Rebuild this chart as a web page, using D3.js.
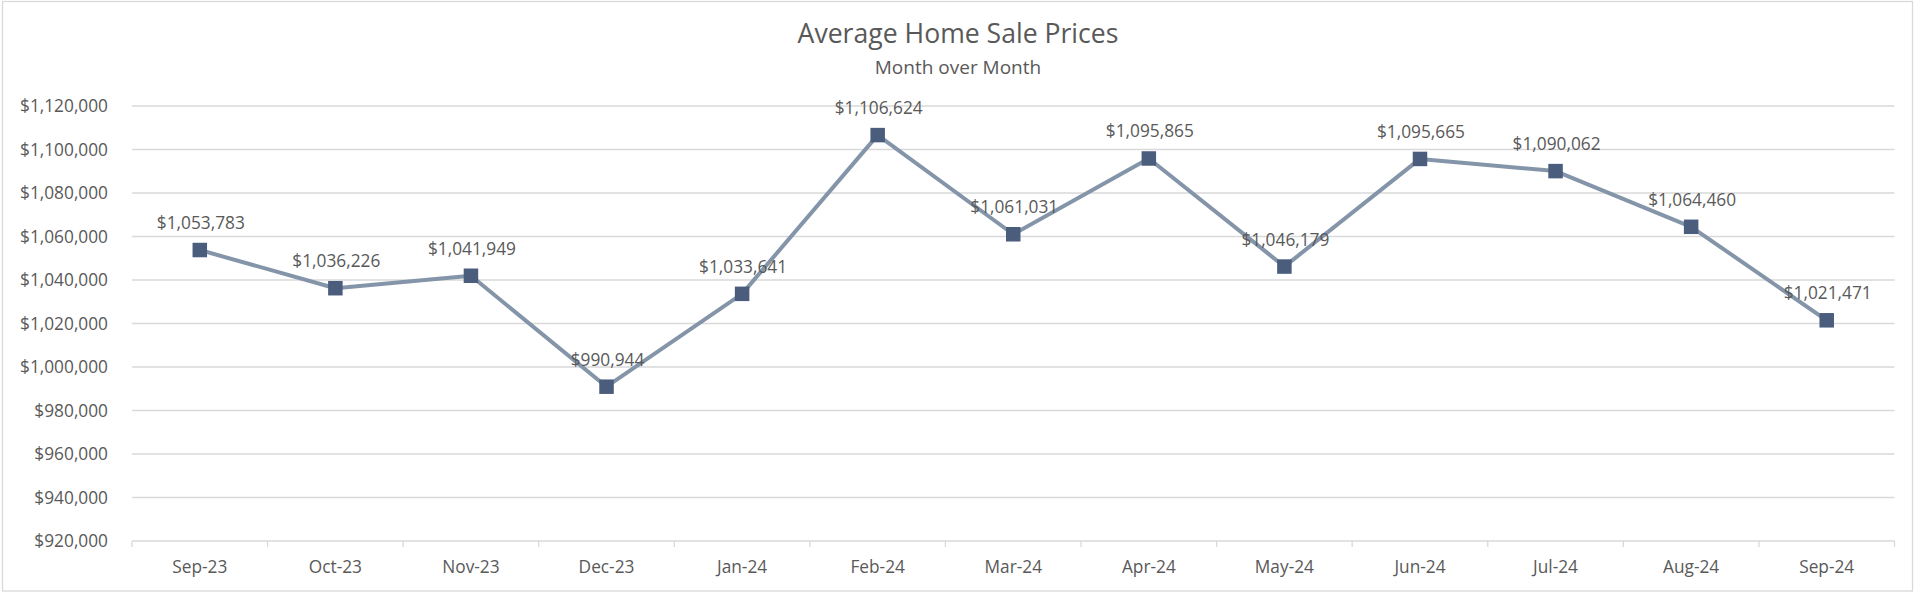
<!DOCTYPE html>
<html>
<head>
<meta charset="utf-8">
<script src="https://cdn.jsdelivr.net/npm/d3@7"></script>
<style>
  body { margin: 0; background: #fff; }
  text { font-family: "Open Sans", sans-serif; fill: #595959; }
</style>
</head>
<body>
<script>
// chart data
var months = ["Sep-23", "Oct-23", "Nov-23", "Dec-23", "Jan-24", "Feb-24", "Mar-24",
              "Apr-24", "May-24", "Jun-24", "Jul-24", "Aug-24", "Sep-24"];
var prices = [1053783, 1036226, 1041949, 990944, 1033641, 1106624, 1061031,
              1095865, 1046179, 1095665, 1090062, 1064460, 1021471];
var yTicks = [920000, 940000, 960000, 980000, 1000000, 1020000, 1040000,
              1060000, 1080000, 1100000, 1120000];

var width = 1920, height = 595;
var margin = { top: 106, right: 25.5, bottom: 54, left: 132 };

var svg = d3.select("body").append("svg")
    .attr("width", width).attr("height", height);

// outer frame
svg.append("rect")
    .attr("x", 2.5).attr("y", 1.5)
    .attr("width", 1910).attr("height", 589.5)
    .attr("fill", "#fff").attr("stroke", "#d9d9d9").attr("stroke-width", 1.3);

var x = d3.scaleBand()
    .domain(months)
    .range([margin.left, width - margin.right]);

var y = d3.scaleLinear()
    .domain([920000, 1120000])
    .range([height - margin.bottom, margin.top]);

var money = d3.format("$,.0f");

// horizontal gridlines
svg.append("g")
    .selectAll("line")
    .data(yTicks.slice(1))
    .enter()
    .append("line")
    .attr("x1", margin.left).attr("x2", width - margin.right)
    .attr("y1", function(d) { return y(d); })
    .attr("y2", function(d) { return y(d); })
    .attr("stroke", "#d9d9d9").attr("stroke-width", 1.3);

// y axis labels
var yAxis = d3.axisLeft(y).tickValues(yTicks).tickFormat(money).tickSize(0).tickPadding(24);
var gy = svg.append("g").attr("transform", "translate(" + margin.left + ",0)").call(yAxis);
gy.select(".domain").remove();
gy.selectAll("text").style("font-size", "17.3px").attr("dy", "0.34em");

// x axis with ticks at band edges
var gx = svg.append("g").attr("transform", "translate(0," + y(920000) + ")");
gx.append("line")
    .attr("x1", margin.left).attr("x2", width - margin.right)
    .attr("stroke", "#d9d9d9").attr("stroke-width", 1.3);
var edges = months.map(function(m) { return x(m); }).concat([x(months[months.length - 1]) + x.bandwidth()]);
gx.selectAll(".tick-mark")
    .data(edges)
    .enter()
    .append("line")
    .attr("x1", function(d) { return d; }).attr("x2", function(d) { return d; })
    .attr("y1", 0).attr("y2", 6)
    .attr("stroke", "#d9d9d9").attr("stroke-width", 1.3);
gx.selectAll(".xlab")
    .data(months)
    .enter()
    .append("text")
    .attr("x", function(d) { return x(d) + x.bandwidth() / 2; })
    .attr("y", 32)
    .attr("text-anchor", "middle")
    .style("font-size", "17.3px")
    .text(function(d) { return d; });

// line
var line = d3.line()
    .x(function(d, i) { return x(months[i]) + x.bandwidth() / 2; })
    .y(function(d) { return y(d); });

svg.append("path")
    .datum(prices)
    .attr("d", line)
    .attr("fill", "none")
    .attr("stroke", "#8495a9")
    .attr("stroke-width", 4)
    .attr("stroke-linejoin", "round");

// markers
var ms = 14.5;
svg.append("g")
    .selectAll("rect")
    .data(prices)
    .enter()
    .append("rect")
    .attr("x", function(d, i) { return x(months[i]) + x.bandwidth() / 2 - ms / 2; })
    .attr("y", function(d) { return y(d) - ms / 2; })
    .attr("width", ms).attr("height", ms)
    .attr("fill", "#4a5d7d");

// data labels
svg.append("g")
    .selectAll("text")
    .data(prices)
    .enter()
    .append("text")
    .attr("x", function(d, i) { return x(months[i]) + x.bandwidth() / 2 + 1; })
    .attr("y", function(d) { return y(d) - 21; })
    .attr("text-anchor", "middle")
    .style("font-size", "17.3px")
    .text(function(d) { return money(d); });

// titles
svg.append("text")
    .attr("x", 958).attr("y", 43)
    .attr("text-anchor", "middle")
    .style("font-size", "26.6px")
    .text("Average Home Sale Prices");
svg.append("text")
    .attr("x", 958).attr("y", 74)
    .attr("text-anchor", "middle")
    .style("font-size", "19px")
    .text("Month over Month");
</script>
</body>
</html>
